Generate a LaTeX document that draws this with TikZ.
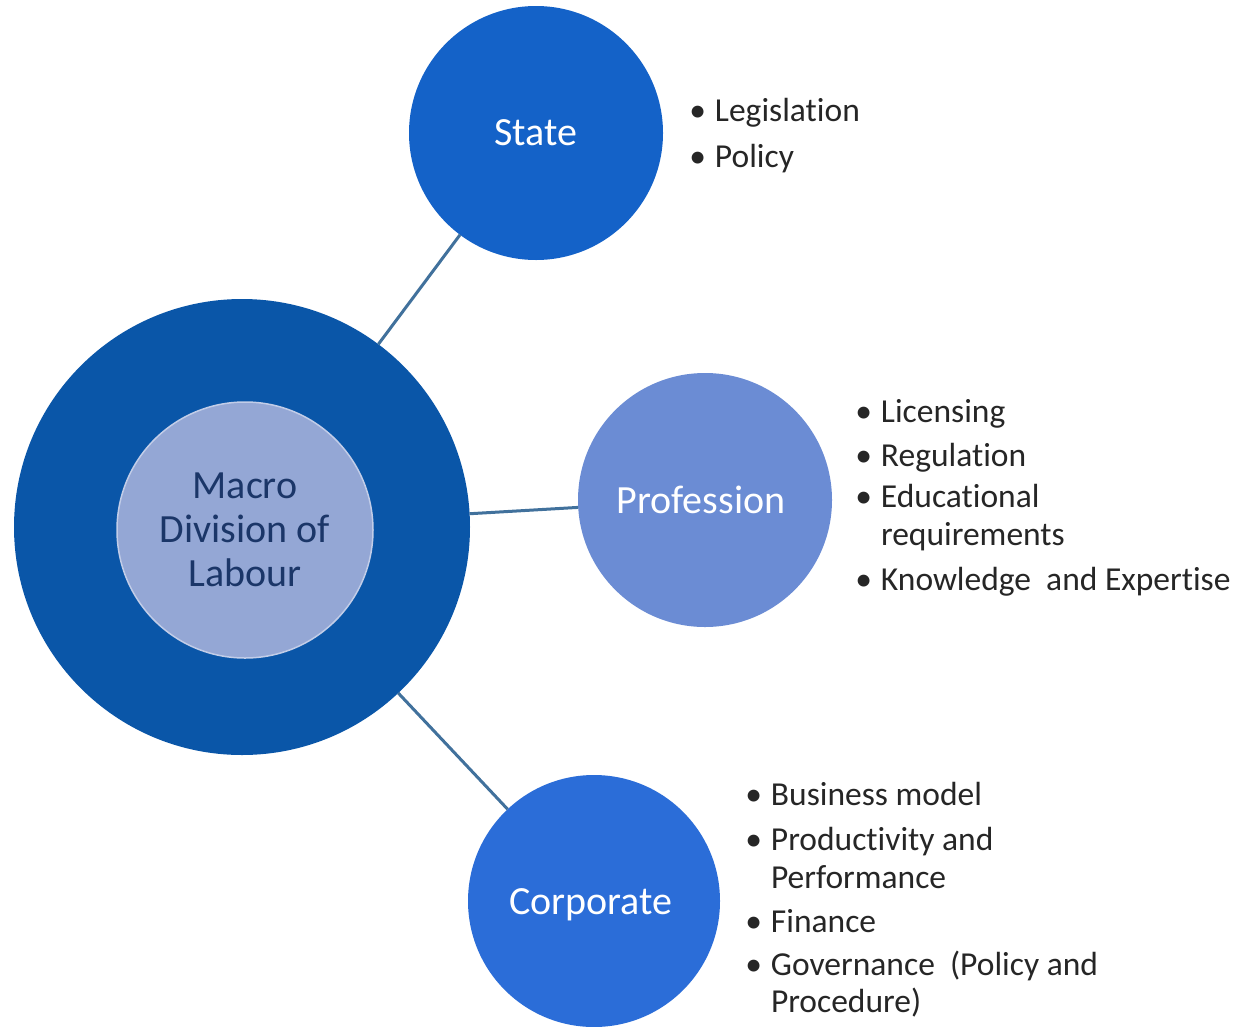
\documentclass[tikz,border=0pt]{standalone}
\usepackage{fontspec}
\setmainfont{Carlito}[Ligatures={NoCommon,NoContextual,NoRare},RawFeature={-liga;-clig;-dlig}]
\definecolor{outerblue}{HTML}{0A56A8}
\definecolor{innerblue}{HTML}{94A7D5}
\definecolor{innerline}{HTML}{C2CDE8}
\definecolor{stateblue}{HTML}{1462C8}
\definecolor{profblue}{HTML}{6B8CD4}
\definecolor{corpblue}{HTML}{2B6DD8}
\definecolor{linkblue}{HTML}{41719C}
\definecolor{navytext}{HTML}{1B3668}
\definecolor{listgray}{HTML}{262626}
\begin{document}
\begin{tikzpicture}[x=1pt,y=-1pt,
  disc/.style={circle,inner sep=0pt,outer sep=0pt,draw=none},
  bigtext/.style={font=\fontsize{40}{44}\selectfont,text=white},
  link/.style={draw=linkblue,line width=3pt},
  item/.style={anchor=base west,inner sep=0pt,outer sep=0pt,text=listgray,font=\fontsize{33.5}{39.5}\selectfont}]
\useasboundingbox (0,0) rectangle (1234,1026);
\fill[white] (0,0) rectangle (1234,1026);

\node[disc,fill=outerblue,minimum size=456pt] (outer) at (242,527) {};
\node[disc,fill=innerblue,draw=innerline,line width=1.5pt,minimum size=256pt,
      align=center,font=\fontsize{40}{44}\selectfont,text=navytext] (inner) at (245,530)
      {Macro\\Division of\\Labour};
\node[disc,fill=stateblue,minimum size=254pt] (state) at (536,133) {};
\node[disc,fill=profblue,minimum size=254pt] (prof) at (705,500) {};
\node[disc,fill=corpblue,minimum size=252pt] (corp) at (594,901) {};
\node[bigtext] (statelbl) at (state.center) {State};
\node[bigtext,xshift=-4pt] (proflbl) at (prof.center) {Profession};
\node[bigtext,xshift=-3pt,yshift=-4pt] (corplbl) at (corp.center) {Corporate};

\draw[link] (outer) -- (state);
\draw[link] (outer) -- (prof);
\draw[link] (outer) -- (corp);

% State list
\node[item] (s1) at (715,121) {\llap{•\hspace{9pt}}Legislation};
\node[item] (s2) at (715,167) {\llap{•\hspace{9pt}}Policy};

% Profession list
\node[item] (p1) at (881,422) {\llap{•\hspace{9pt}}Licensing};
\node[item] (p2) at (881,466) {\llap{•\hspace{9pt}}Regulation};
\node[item] (p3) at (881,507) {\llap{•\hspace{9pt}}Educational};
\node[item] (p3b) at (881,545) {requirements};
\node[item] (p4) at (881,590) {\llap{•\hspace{9pt}}Knowledge\ \ and Expertise};

% Corporate list
\node[item] (c1) at (771,805) {\llap{•\hspace{9pt}}Business model};
\node[item] (c2) at (771,850) {\llap{•\hspace{9pt}}Productivity and};
\node[item] (c2b) at (771,888) {Performance};
\node[item] (c3) at (771,932) {\llap{•\hspace{9pt}}Finance};
\node[item] (c4) at (771,975) {\llap{•\hspace{9pt}}Governance\ \ (Policy and};
\node[item] (c4b) at (771,1012) {Procedure)};
\end{tikzpicture}
\end{document}
